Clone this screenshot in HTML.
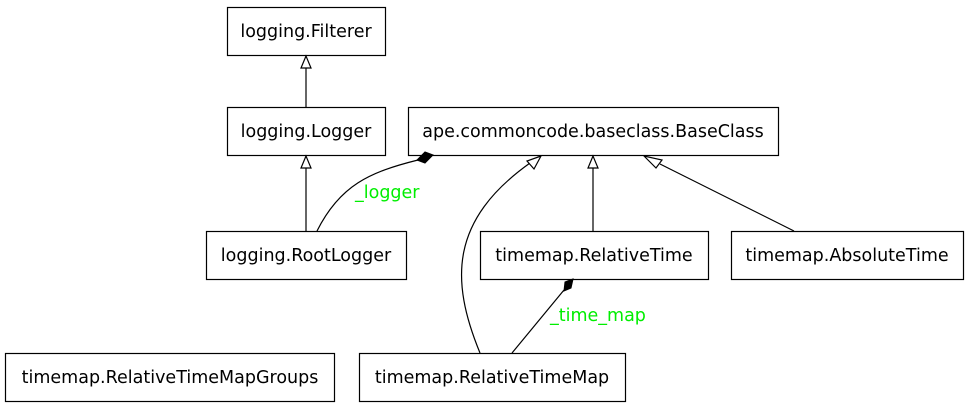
<!DOCTYPE html>
<html><head><style>
body{margin:0;background:#fff;}
svg text{font-family:"DejaVu Sans","Liberation Sans",sans-serif;font-size:17.5px;}
</style></head><body>
<svg width="968" height="408" viewBox="0 0 968 408" xmlns="http://www.w3.org/2000/svg">
<g fill="#fff" stroke="#000" stroke-width="1.2">
<rect x="227.5" y="7.5" width="158" height="48"/>
<rect x="227.5" y="107.5" width="158" height="48"/>
<rect x="408.5" y="107.5" width="370" height="48"/>
<rect x="206.5" y="231.5" width="200" height="48"/>
<rect x="480.5" y="231.5" width="228" height="48"/>
<rect x="731.5" y="231.5" width="232" height="48"/>
<rect x="5.5" y="353.5" width="329" height="48"/>
<rect x="359.5" y="353.5" width="266" height="48"/>
</g>
<g fill="#000" text-anchor="middle">
<text x="306" y="37">logging.Filterer</text>
<text x="306" y="137">logging.Logger</text>
<text x="593" y="137">ape.commoncode.baseclass.BaseClass</text>
<text x="306" y="261">logging.RootLogger</text>
<text x="594" y="261">timemap.RelativeTime</text>
<text x="847" y="261">timemap.AbsoluteTime</text>
<text x="170" y="383">timemap.RelativeTimeMapGroups</text>
<text x="492" y="383">timemap.RelativeTimeMap</text>
</g>
<g fill="none" stroke="#000" stroke-width="1.2">
<line x1="306" y1="107" x2="306" y2="68"/>
<line x1="306" y1="231" x2="306" y2="168"/>
<line x1="593" y1="231" x2="593" y2="168"/>
<line x1="794" y1="231" x2="660" y2="164"/>
<path d="M317,231 C340,185 370,172 418,160"/>
<path d="M480,353 C450,280 450,220 530,163"/>
<line x1="512" y1="353" x2="564" y2="290"/>
</g>
<g fill="#fff" stroke="#000" stroke-width="1.2">
<polygon points="306,56 301,68 311,68"/>
<polygon points="306,156 301,168 311,168"/>
<polygon points="593,156 588,168 598,168"/>
<polygon points="644,156 656,168 662,160"/>
<polygon points="541,156 527,161 534,169"/>
</g>
<g fill="#000" stroke="#000">
<polygon points="433,155 425,152 417,160 425,163"/>
<polygon points="573,279 565,282 564,291 571,288"/>
</g>
<g fill="#00ee00">
<text x="355" y="198">_logger</text>
<text x="550" y="321">_time_map</text>
</g>
</svg>
</body></html>
